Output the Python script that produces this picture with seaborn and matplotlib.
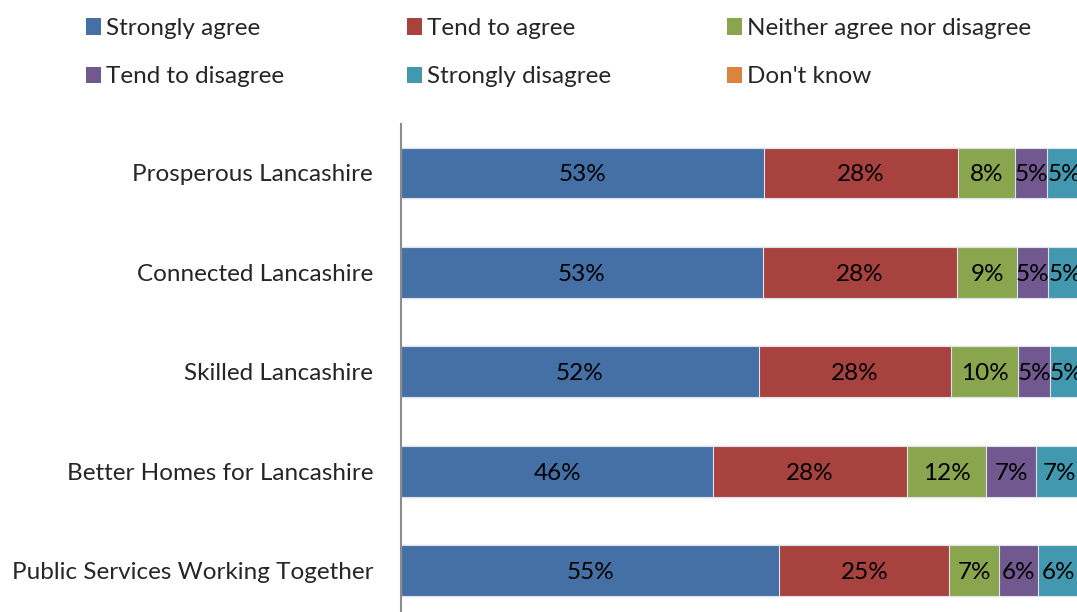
import numpy as np
import pandas as pd
import seaborn as sns
import matplotlib.pyplot as plt
from matplotlib.patches import Patch

categories = ["Prosperous Lancashire", "Connected Lancashire", "Skilled Lancashire",
              "Better Homes for Lancashire", "Public Services Working Together"]
responses = ["Strongly agree", "Tend to agree", "Neither agree nor disagree",
             "Tend to disagree", "Strongly disagree", "Don't know"]
strongly_agree = [53.1, 53.0, 52.4, 45.7, 55.4]
tend_to_agree = [28.4, 28.4, 28.1, 28.4, 24.9]
neither = [8.4, 8.8, 9.9, 11.6, 7.3]
tend_to_disagree = [4.7, 4.6, 4.6, 7.3, 5.6]
strongly_disagree = [5.0, 5.0, 4.8, 6.9, 6.0]
dont_know = [0.4, 0.2, 0.2, 0.1, 0.8]
colors = ["#4470A6", "#A8423F", "#89A54E", "#71588F", "#4298AF", "#DB843D"]

series = [strongly_agree, tend_to_agree, neither, tend_to_disagree,
          strongly_disagree, dont_know]

sns.set_style("white")
plt.rcParams['font.family'] = ['Lato', 'DejaVu Sans']
FS = 17.5

fig = plt.figure(figsize=(10.77, 6.12), dpi=100)
ax = fig.add_axes([401 / 1077, -0.0136, 683 / 1077, 0.811])

df = pd.DataFrame({"category": categories})
cum = np.cumsum(np.array(series), axis=0)
# stacked bars: draw cumulative totals from the last layer back to the first
for i in range(len(series) - 1, -1, -1):
    df["value"] = cum[i]
    sns.barplot(data=df, x="value", y="category", orient="h", color=colors[i],
                width=0.513, edgecolor="#dfe4ec", linewidth=0.8,
                saturation=1, ax=ax)

# value labels (Don't know segments fall off the edge, not labelled)
for i in range(len(series) - 1):
    left = cum[i] - np.array(series[i])
    for j, v in enumerate(series[i]):
        ax.text(left[j] + v / 2, j + 0.02, f"{v:.0f}%", ha="center", va="center",
                fontsize=FS, color="black")

ax.set_xlim(0, 100)
ax.set_ylim(4.5, -0.493)
ax.set_xlabel("")
ax.set_ylabel("")
ax.set_xticks([])
for s in ["top", "right", "bottom"]:
    ax.spines[s].set_visible(False)
ax.spines["left"].set_color("#8c8c8c")
ax.spines["left"].set_linewidth(1.5)
ax.tick_params(axis="y", length=0, pad=20, labelsize=FS)

handles = [Patch(facecolor=c, edgecolor="none") for c in colors]
col_x = [86, 407, 727]
for k in range(3):
    fig.legend(handles=[handles[k], handles[k + 3]],
               labels=[responses[k], responses[k + 3]],
               loc="upper left", bbox_to_anchor=(col_x[k] / 1077, (612 - 18) / 612),
               frameon=False, fontsize=FS, handlelength=0.62, handleheight=0.66,
               handletextpad=0.2, labelspacing=1.13, borderpad=0, borderaxespad=0)

fig.savefig("out.png", dpi=100)
